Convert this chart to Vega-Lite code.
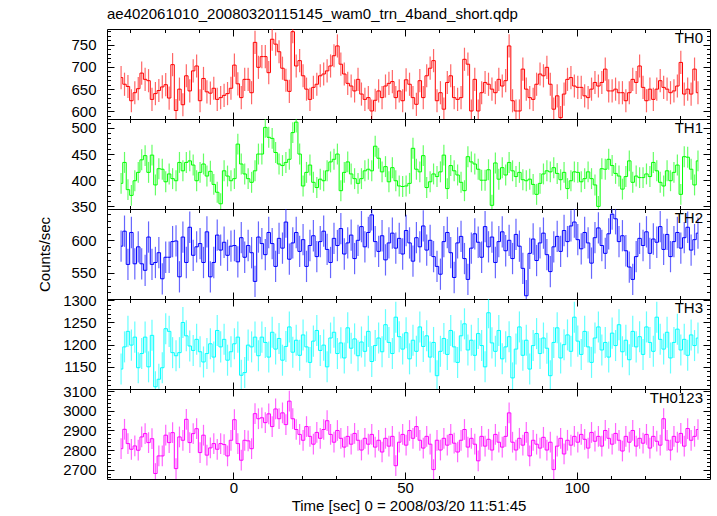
{
"$schema":"https://vega.github.io/schema/vega-lite/v6.json",
"padding":{"left":37,"top":7,"right":7,"bottom":0},
"bounds":"flush",
"spacing":0,
"title":{"text":"ae402061010_20080320115145_wam0_trn_4band_short.qdp","anchor":"start","frame":"group","fontSize":15,"fontWeight":"normal","font":"Liberation Sans","color":"#000","baseline":"alphabetic","offset":-10.5},
"datasets":{
"th0":[{"t":-32.7,"v":676,"e":26},{"t":-31.7,"v":661,"e":26},{"t":-30.7,"v":656,"e":26},{"t":-29.7,"v":624,"e":26},{"t":-28.7,"v":642,"e":26},{"t":-27.7,"v":651,"e":26},{"t":-26.7,"v":686,"e":26},{"t":-25.7,"v":672,"e":26},{"t":-24.7,"v":669,"e":26},{"t":-23.7,"v":627,"e":26},{"t":-22.7,"v":640,"e":26},{"t":-21.7,"v":647,"e":26},{"t":-20.7,"v":655,"e":26},{"t":-19.7,"v":660,"e":26},{"t":-18.7,"v":630,"e":26},{"t":-17.7,"v":705,"e":26},{"t":-16.7,"v":602,"e":26},{"t":-15.7,"v":650,"e":26},{"t":-14.7,"v":615,"e":26},{"t":-13.7,"v":680,"e":26},{"t":-12.7,"v":646,"e":26},{"t":-11.7,"v":691,"e":26},{"t":-10.7,"v":702,"e":26},{"t":-9.7,"v":624,"e":26},{"t":-8.7,"v":674,"e":26},{"t":-7.7,"v":644,"e":26},{"t":-6.7,"v":641,"e":26},{"t":-5.7,"v":652,"e":26},{"t":-4.7,"v":627,"e":26},{"t":-3.7,"v":631,"e":26},{"t":-2.7,"v":636,"e":26},{"t":-1.7,"v":640,"e":26},{"t":-0.7,"v":652,"e":26},{"t":0.3,"v":704,"e":26},{"t":1.3,"v":662,"e":26},{"t":2.3,"v":631,"e":26},{"t":3.3,"v":672,"e":26},{"t":4.3,"v":672,"e":26},{"t":5.3,"v":642,"e":26},{"t":6.3,"v":755,"e":26},{"t":7.3,"v":699,"e":26},{"t":8.3,"v":723,"e":26},{"t":9.3,"v":723,"e":26},{"t":10.3,"v":687,"e":26},{"t":11.3,"v":762,"e":26},{"t":12.3,"v":751,"e":26},{"t":13.3,"v":734,"e":26},{"t":14.3,"v":697,"e":26},{"t":15.3,"v":670,"e":26},{"t":16.3,"v":645,"e":26},{"t":17.3,"v":779,"e":26},{"t":18.3,"v":702,"e":26},{"t":19.3,"v":714,"e":26},{"t":20.3,"v":680,"e":26},{"t":21.3,"v":650,"e":26},{"t":22.3,"v":627,"e":26},{"t":23.3,"v":654,"e":26},{"t":24.3,"v":661,"e":26},{"t":25.3,"v":680,"e":26},{"t":26.3,"v":684,"e":26},{"t":27.3,"v":691,"e":26},{"t":28.3,"v":702,"e":26},{"t":29.3,"v":725,"e":26},{"t":30.3,"v":747,"e":26},{"t":31.3,"v":706,"e":26},{"t":32.3,"v":684,"e":26},{"t":33.3,"v":663,"e":26},{"t":34.3,"v":657,"e":26},{"t":35.3,"v":646,"e":26},{"t":36.3,"v":672,"e":26},{"t":37.3,"v":639,"e":26},{"t":38.3,"v":627,"e":26},{"t":39.3,"v":631,"e":26},{"t":40.3,"v":601,"e":26},{"t":41.3,"v":625,"e":26},{"t":42.3,"v":646,"e":26},{"t":43.3,"v":631,"e":26},{"t":44.3,"v":657,"e":26},{"t":45.3,"v":663,"e":26},{"t":46.3,"v":667,"e":26},{"t":47.3,"v":631,"e":26},{"t":48.3,"v":646,"e":26},{"t":49.3,"v":624,"e":26},{"t":50.3,"v":671,"e":26},{"t":51.3,"v":661,"e":26},{"t":52.3,"v":631,"e":26},{"t":53.3,"v":616,"e":26},{"t":54.3,"v":669,"e":26},{"t":55.3,"v":631,"e":26},{"t":56.3,"v":680,"e":26},{"t":57.3,"v":697,"e":26},{"t":58.3,"v":714,"e":26},{"t":59.3,"v":624,"e":26},{"t":60.3,"v":642,"e":26},{"t":61.3,"v":605,"e":26},{"t":62.3,"v":665,"e":26},{"t":63.3,"v":680,"e":26},{"t":64.3,"v":631,"e":26},{"t":65.3,"v":627,"e":26},{"t":66.3,"v":631,"e":26},{"t":67.3,"v":717,"e":26},{"t":68.3,"v":706,"e":26},{"t":69.3,"v":601,"e":26},{"t":70.3,"v":672,"e":26},{"t":71.3,"v":601,"e":26},{"t":72.3,"v":642,"e":26},{"t":73.3,"v":665,"e":26},{"t":74.3,"v":661,"e":26},{"t":75.3,"v":650,"e":26},{"t":76.3,"v":642,"e":26},{"t":77.3,"v":672,"e":26},{"t":78.3,"v":657,"e":26},{"t":79.3,"v":669,"e":26},{"t":80.3,"v":747,"e":26},{"t":81.3,"v":624,"e":26},{"t":82.3,"v":601,"e":26},{"t":83.3,"v":601,"e":26},{"t":84.3,"v":695,"e":26},{"t":85.3,"v":650,"e":26},{"t":86.3,"v":631,"e":26},{"t":87.3,"v":627,"e":26},{"t":88.3,"v":661,"e":26},{"t":89.3,"v":684,"e":26},{"t":90.3,"v":680,"e":26},{"t":91.3,"v":699,"e":26},{"t":92.3,"v":661,"e":26},{"t":93.3,"v":605,"e":26},{"t":94.3,"v":635,"e":26},{"t":95.3,"v":586,"e":26},{"t":96.3,"v":639,"e":26},{"t":97.3,"v":672,"e":26},{"t":98.3,"v":676,"e":26},{"t":99.3,"v":657,"e":26},{"t":100.3,"v":654,"e":26},{"t":101.3,"v":654,"e":26},{"t":102.3,"v":635,"e":26},{"t":103.3,"v":631,"e":26},{"t":104.3,"v":650,"e":26},{"t":105.3,"v":665,"e":26},{"t":106.3,"v":657,"e":26},{"t":107.3,"v":665,"e":26},{"t":108.3,"v":695,"e":26},{"t":109.3,"v":646,"e":26},{"t":110.3,"v":646,"e":26},{"t":111.3,"v":650,"e":26},{"t":112.3,"v":642,"e":26},{"t":113.3,"v":642,"e":26},{"t":114.3,"v":624,"e":26},{"t":115.3,"v":642,"e":26},{"t":116.3,"v":672,"e":26},{"t":117.3,"v":665,"e":26},{"t":118.3,"v":702,"e":26},{"t":119.3,"v":654,"e":26},{"t":120.3,"v":624,"e":26},{"t":121.3,"v":650,"e":26},{"t":122.3,"v":627,"e":26},{"t":123.3,"v":650,"e":26},{"t":124.3,"v":669,"e":26},{"t":125.3,"v":654,"e":26},{"t":126.3,"v":650,"e":26},{"t":127.3,"v":642,"e":26},{"t":128.3,"v":646,"e":26},{"t":129.3,"v":657,"e":26},{"t":130.3,"v":710,"e":26},{"t":131.3,"v":639,"e":26},{"t":132.3,"v":650,"e":26},{"t":133.3,"v":639,"e":26},{"t":134.3,"v":695,"e":26},{"t":135.3,"v":642,"e":26}],
"th1":[{"t":-32.7,"v":394,"e":20},{"t":-31.7,"v":434,"e":20},{"t":-30.7,"v":382,"e":20},{"t":-29.7,"v":371,"e":20},{"t":-28.7,"v":399,"e":20},{"t":-27.7,"v":415,"e":20},{"t":-26.7,"v":439,"e":20},{"t":-25.7,"v":447,"e":20},{"t":-24.7,"v":415,"e":20},{"t":-23.7,"v":448,"e":20},{"t":-22.7,"v":391,"e":20},{"t":-21.7,"v":422,"e":20},{"t":-20.7,"v":421,"e":20},{"t":-19.7,"v":397,"e":20},{"t":-18.7,"v":412,"e":20},{"t":-17.7,"v":403,"e":20},{"t":-16.7,"v":399,"e":20},{"t":-15.7,"v":434,"e":20},{"t":-14.7,"v":418,"e":20},{"t":-13.7,"v":434,"e":20},{"t":-12.7,"v":437,"e":20},{"t":-11.7,"v":429,"e":20},{"t":-10.7,"v":399,"e":20},{"t":-9.7,"v":415,"e":20},{"t":-8.7,"v":431,"e":20},{"t":-7.7,"v":408,"e":20},{"t":-6.7,"v":417,"e":20},{"t":-5.7,"v":392,"e":20},{"t":-4.7,"v":377,"e":20},{"t":-3.7,"v":355,"e":20},{"t":-2.7,"v":418,"e":20},{"t":-1.7,"v":408,"e":20},{"t":-0.7,"v":399,"e":20},{"t":0.3,"v":403,"e":20},{"t":1.3,"v":469,"e":20},{"t":2.3,"v":431,"e":20},{"t":3.3,"v":412,"e":20},{"t":4.3,"v":403,"e":20},{"t":5.3,"v":396,"e":20},{"t":6.3,"v":418,"e":20},{"t":7.3,"v":450,"e":20},{"t":8.3,"v":450,"e":20},{"t":9.3,"v":501,"e":20},{"t":10.3,"v":482,"e":20},{"t":11.3,"v":480,"e":20},{"t":12.3,"v":453,"e":20},{"t":13.3,"v":431,"e":20},{"t":14.3,"v":428,"e":20},{"t":15.3,"v":434,"e":20},{"t":16.3,"v":440,"e":20},{"t":17.3,"v":491,"e":20},{"t":18.3,"v":511,"e":20},{"t":19.3,"v":450,"e":20},{"t":20.3,"v":389,"e":20},{"t":21.3,"v":415,"e":20},{"t":22.3,"v":429,"e":20},{"t":23.3,"v":396,"e":20},{"t":24.3,"v":386,"e":20},{"t":25.3,"v":402,"e":20},{"t":26.3,"v":399,"e":20},{"t":27.3,"v":418,"e":20},{"t":28.3,"v":435,"e":20},{"t":29.3,"v":440,"e":20},{"t":30.3,"v":450,"e":20},{"t":31.3,"v":380,"e":20},{"t":32.3,"v":415,"e":20},{"t":33.3,"v":435,"e":20},{"t":34.3,"v":412,"e":20},{"t":35.3,"v":403,"e":20},{"t":36.3,"v":394,"e":20},{"t":37.3,"v":403,"e":20},{"t":38.3,"v":418,"e":20},{"t":39.3,"v":421,"e":20},{"t":40.3,"v":418,"e":20},{"t":41.3,"v":465,"e":20},{"t":42.3,"v":442,"e":20},{"t":43.3,"v":416,"e":20},{"t":44.3,"v":426,"e":20},{"t":45.3,"v":397,"e":20},{"t":46.3,"v":424,"e":20},{"t":47.3,"v":399,"e":20},{"t":48.3,"v":389,"e":20},{"t":49.3,"v":388,"e":20},{"t":50.3,"v":389,"e":20},{"t":51.3,"v":394,"e":20},{"t":52.3,"v":461,"e":20},{"t":53.3,"v":421,"e":20},{"t":54.3,"v":416,"e":20},{"t":55.3,"v":447,"e":20},{"t":56.3,"v":386,"e":20},{"t":57.3,"v":397,"e":20},{"t":58.3,"v":412,"e":20},{"t":59.3,"v":407,"e":20},{"t":60.3,"v":416,"e":20},{"t":61.3,"v":448,"e":20},{"t":62.3,"v":384,"e":20},{"t":63.3,"v":428,"e":20},{"t":64.3,"v":418,"e":20},{"t":65.3,"v":410,"e":20},{"t":66.3,"v":396,"e":20},{"t":67.3,"v":380,"e":20},{"t":68.3,"v":445,"e":20},{"t":69.3,"v":435,"e":20},{"t":70.3,"v":431,"e":20},{"t":71.3,"v":421,"e":20},{"t":72.3,"v":400,"e":20},{"t":73.3,"v":400,"e":20},{"t":74.3,"v":420,"e":20},{"t":75.3,"v":352,"e":20},{"t":76.3,"v":433,"e":20},{"t":77.3,"v":402,"e":20},{"t":78.3,"v":424,"e":20},{"t":79.3,"v":410,"e":20},{"t":80.3,"v":434,"e":20},{"t":81.3,"v":418,"e":20},{"t":82.3,"v":407,"e":20},{"t":83.3,"v":415,"e":20},{"t":84.3,"v":401,"e":20},{"t":85.3,"v":399,"e":20},{"t":86.3,"v":402,"e":20},{"t":87.3,"v":392,"e":20},{"t":88.3,"v":373,"e":20},{"t":89.3,"v":394,"e":20},{"t":90.3,"v":412,"e":20},{"t":91.3,"v":418,"e":20},{"t":92.3,"v":416,"e":20},{"t":93.3,"v":424,"e":20},{"t":94.3,"v":413,"e":20},{"t":95.3,"v":401,"e":20},{"t":96.3,"v":415,"e":20},{"t":97.3,"v":384,"e":20},{"t":98.3,"v":399,"e":20},{"t":99.3,"v":416,"e":20},{"t":100.3,"v":415,"e":20},{"t":101.3,"v":397,"e":20},{"t":102.3,"v":403,"e":20},{"t":103.3,"v":416,"e":20},{"t":104.3,"v":403,"e":20},{"t":105.3,"v":391,"e":20},{"t":106.3,"v":350,"e":20},{"t":107.3,"v":422,"e":20},{"t":108.3,"v":421,"e":20},{"t":109.3,"v":440,"e":20},{"t":110.3,"v":428,"e":20},{"t":111.3,"v":413,"e":20},{"t":112.3,"v":408,"e":20},{"t":113.3,"v":383,"e":20},{"t":114.3,"v":407,"e":20},{"t":115.3,"v":437,"e":20},{"t":116.3,"v":396,"e":20},{"t":117.3,"v":408,"e":20},{"t":118.3,"v":405,"e":20},{"t":119.3,"v":405,"e":20},{"t":120.3,"v":412,"e":20},{"t":121.3,"v":407,"e":20},{"t":122.3,"v":434,"e":20},{"t":123.3,"v":418,"e":20},{"t":124.3,"v":396,"e":20},{"t":125.3,"v":389,"e":20},{"t":126.3,"v":418,"e":20},{"t":127.3,"v":399,"e":20},{"t":128.3,"v":415,"e":20},{"t":129.3,"v":429,"e":20},{"t":130.3,"v":373,"e":20},{"t":131.3,"v":445,"e":20},{"t":132.3,"v":444,"e":20},{"t":133.3,"v":421,"e":20},{"t":134.3,"v":391,"e":20},{"t":135.3,"v":437,"e":20}],
"th2":[{"t":-32.7,"v":591,"e":24},{"t":-31.7,"v":614,"e":24},{"t":-30.7,"v":563,"e":24},{"t":-29.7,"v":612,"e":24},{"t":-28.7,"v":564,"e":24},{"t":-27.7,"v":590,"e":24},{"t":-26.7,"v":564,"e":24},{"t":-25.7,"v":554,"e":24},{"t":-24.7,"v":605,"e":24},{"t":-23.7,"v":563,"e":24},{"t":-22.7,"v":566,"e":24},{"t":-21.7,"v":581,"e":24},{"t":-20.7,"v":541,"e":24},{"t":-19.7,"v":574,"e":24},{"t":-18.7,"v":574,"e":24},{"t":-17.7,"v":598,"e":24},{"t":-16.7,"v":599,"e":24},{"t":-15.7,"v":544,"e":24},{"t":-14.7,"v":605,"e":24},{"t":-13.7,"v":566,"e":24},{"t":-12.7,"v":620,"e":24},{"t":-11.7,"v":577,"e":24},{"t":-10.7,"v":590,"e":24},{"t":-9.7,"v":595,"e":24},{"t":-8.7,"v":566,"e":24},{"t":-7.7,"v":613,"e":24},{"t":-6.7,"v":544,"e":24},{"t":-5.7,"v":566,"e":24},{"t":-4.7,"v":608,"e":24},{"t":-3.7,"v":585,"e":24},{"t":-2.7,"v":597,"e":24},{"t":-1.7,"v":577,"e":24},{"t":-0.7,"v":591,"e":24},{"t":0.3,"v":592,"e":24},{"t":1.3,"v":567,"e":24},{"t":2.3,"v":604,"e":24},{"t":3.3,"v":574,"e":24},{"t":4.3,"v":592,"e":24},{"t":5.3,"v":581,"e":24},{"t":6.3,"v":537,"e":24},{"t":7.3,"v":605,"e":24},{"t":8.3,"v":595,"e":24},{"t":9.3,"v":578,"e":24},{"t":10.3,"v":612,"e":24},{"t":11.3,"v":595,"e":24},{"t":12.3,"v":560,"e":24},{"t":13.3,"v":603,"e":24},{"t":14.3,"v":588,"e":24},{"t":15.3,"v":628,"e":24},{"t":16.3,"v":571,"e":24},{"t":17.3,"v":596,"e":24},{"t":18.3,"v":612,"e":24},{"t":19.3,"v":583,"e":24},{"t":20.3,"v":601,"e":24},{"t":21.3,"v":560,"e":24},{"t":22.3,"v":592,"e":24},{"t":23.3,"v":607,"e":24},{"t":24.3,"v":575,"e":24},{"t":25.3,"v":598,"e":24},{"t":26.3,"v":614,"e":24},{"t":27.3,"v":586,"e":24},{"t":28.3,"v":566,"e":24},{"t":29.3,"v":603,"e":24},{"t":30.3,"v":592,"e":24},{"t":31.3,"v":618,"e":24},{"t":32.3,"v":579,"e":24},{"t":33.3,"v":596,"e":24},{"t":34.3,"v":608,"e":24},{"t":35.3,"v":572,"e":24},{"t":36.3,"v":600,"e":24},{"t":37.3,"v":621,"e":24},{"t":38.3,"v":590,"e":24},{"t":39.3,"v":612,"e":24},{"t":40.3,"v":639,"e":24},{"t":41.3,"v":598,"e":24},{"t":42.3,"v":583,"e":24},{"t":43.3,"v":607,"e":24},{"t":44.3,"v":570,"e":24},{"t":45.3,"v":596,"e":24},{"t":46.3,"v":611,"e":24},{"t":47.3,"v":588,"e":24},{"t":48.3,"v":603,"e":24},{"t":49.3,"v":579,"e":24},{"t":50.3,"v":615,"e":24},{"t":51.3,"v":596,"e":24},{"t":52.3,"v":568,"e":24},{"t":53.3,"v":604,"e":24},{"t":54.3,"v":590,"e":24},{"t":55.3,"v":622,"e":24},{"t":56.3,"v":585,"e":24},{"t":57.3,"v":600,"e":24},{"t":58.3,"v":575,"e":24},{"t":59.3,"v":560,"e":24},{"t":60.3,"v":548,"e":24},{"t":61.3,"v":598,"e":24},{"t":62.3,"v":612,"e":24},{"t":63.3,"v":581,"e":24},{"t":64.3,"v":543,"e":24},{"t":65.3,"v":596,"e":24},{"t":66.3,"v":606,"e":24},{"t":67.3,"v":572,"e":24},{"t":68.3,"v":540,"e":24},{"t":69.3,"v":588,"e":24},{"t":70.3,"v":610,"e":24},{"t":71.3,"v":597,"e":24},{"t":72.3,"v":574,"e":24},{"t":73.3,"v":621,"e":24},{"t":74.3,"v":590,"e":24},{"t":75.3,"v":605,"e":24},{"t":76.3,"v":566,"e":24},{"t":77.3,"v":598,"e":24},{"t":78.3,"v":613,"e":24},{"t":79.3,"v":584,"e":24},{"t":80.3,"v":600,"e":24},{"t":81.3,"v":572,"e":24},{"t":82.3,"v":609,"e":24},{"t":83.3,"v":591,"e":24},{"t":84.3,"v":557,"e":24},{"t":85.3,"v":515,"e":24},{"t":86.3,"v":580,"e":24},{"t":87.3,"v":602,"e":24},{"t":88.3,"v":569,"e":24},{"t":89.3,"v":596,"e":24},{"t":90.3,"v":611,"e":24},{"t":91.3,"v":578,"e":24},{"t":92.3,"v":552,"e":24},{"t":93.3,"v":590,"e":24},{"t":94.3,"v":606,"e":24},{"t":95.3,"v":583,"e":24},{"t":96.3,"v":615,"e":24},{"t":97.3,"v":598,"e":24},{"t":98.3,"v":622,"e":24},{"t":99.3,"v":628,"e":24},{"t":100.3,"v":601,"e":24},{"t":101.3,"v":587,"e":24},{"t":102.3,"v":612,"e":24},{"t":103.3,"v":596,"e":24},{"t":104.3,"v":565,"e":24},{"t":105.3,"v":604,"e":24},{"t":106.3,"v":619,"e":24},{"t":107.3,"v":592,"e":24},{"t":108.3,"v":580,"e":24},{"t":109.3,"v":610,"e":24},{"t":110.3,"v":640,"e":24},{"t":111.3,"v":633,"e":24},{"t":112.3,"v":598,"e":24},{"t":113.3,"v":607,"e":24},{"t":114.3,"v":584,"e":24},{"t":115.3,"v":559,"e":24},{"t":116.3,"v":540,"e":24},{"t":117.3,"v":575,"e":24},{"t":118.3,"v":603,"e":24},{"t":119.3,"v":592,"e":24},{"t":120.3,"v":613,"e":24},{"t":121.3,"v":580,"e":24},{"t":122.3,"v":602,"e":24},{"t":123.3,"v":597,"e":24},{"t":124.3,"v":621,"e":24},{"t":125.3,"v":586,"e":24},{"t":126.3,"v":609,"e":24},{"t":127.3,"v":575,"e":24},{"t":128.3,"v":598,"e":24},{"t":129.3,"v":612,"e":24},{"t":130.3,"v":588,"e":24},{"t":131.3,"v":604,"e":24},{"t":132.3,"v":620,"e":24},{"t":133.3,"v":585,"e":24},{"t":134.3,"v":601,"e":24},{"t":135.3,"v":611,"e":24}],
"th3":[{"t":-32.7,"v":1145,"e":35},{"t":-31.7,"v":1195,"e":35},{"t":-30.7,"v":1230,"e":35},{"t":-29.7,"v":1199,"e":35},{"t":-28.7,"v":1217,"e":35},{"t":-27.7,"v":1148,"e":35},{"t":-26.7,"v":1180,"e":35},{"t":-25.7,"v":1217,"e":35},{"t":-24.7,"v":1150,"e":35},{"t":-23.7,"v":1221,"e":35},{"t":-22.7,"v":1105,"e":35},{"t":-21.7,"v":1122,"e":35},{"t":-20.7,"v":1148,"e":35},{"t":-19.7,"v":1236,"e":35},{"t":-18.7,"v":1230,"e":35},{"t":-17.7,"v":1182,"e":35},{"t":-16.7,"v":1175,"e":35},{"t":-15.7,"v":1182,"e":35},{"t":-14.7,"v":1250,"e":35},{"t":-13.7,"v":1220,"e":35},{"t":-12.7,"v":1197,"e":35},{"t":-11.7,"v":1187,"e":35},{"t":-10.7,"v":1212,"e":35},{"t":-9.7,"v":1184,"e":35},{"t":-8.7,"v":1161,"e":35},{"t":-7.7,"v":1180,"e":35},{"t":-6.7,"v":1202,"e":35},{"t":-5.7,"v":1172,"e":35},{"t":-4.7,"v":1232,"e":35},{"t":-3.7,"v":1195,"e":35},{"t":-2.7,"v":1212,"e":35},{"t":-1.7,"v":1165,"e":35},{"t":-0.7,"v":1184,"e":35},{"t":0.3,"v":1202,"e":35},{"t":1.3,"v":1217,"e":35},{"t":2.3,"v":1131,"e":35},{"t":3.3,"v":1137,"e":35},{"t":4.3,"v":1199,"e":35},{"t":5.3,"v":1195,"e":35},{"t":6.3,"v":1217,"e":35},{"t":7.3,"v":1175,"e":35},{"t":8.3,"v":1217,"e":35},{"t":9.3,"v":1205,"e":35},{"t":10.3,"v":1172,"e":35},{"t":11.3,"v":1228,"e":35},{"t":12.3,"v":1190,"e":35},{"t":13.3,"v":1214,"e":35},{"t":14.3,"v":1165,"e":35},{"t":15.3,"v":1196,"e":35},{"t":16.3,"v":1240,"e":35},{"t":17.3,"v":1183,"e":35},{"t":18.3,"v":1210,"e":35},{"t":19.3,"v":1176,"e":35},{"t":20.3,"v":1222,"e":35},{"t":21.3,"v":1195,"e":35},{"t":22.3,"v":1160,"e":35},{"t":23.3,"v":1208,"e":35},{"t":24.3,"v":1232,"e":35},{"t":25.3,"v":1187,"e":35},{"t":26.3,"v":1199,"e":35},{"t":27.3,"v":1150,"e":35},{"t":28.3,"v":1215,"e":35},{"t":29.3,"v":1228,"e":35},{"t":30.3,"v":1180,"e":35},{"t":31.3,"v":1204,"e":35},{"t":32.3,"v":1170,"e":35},{"t":33.3,"v":1238,"e":35},{"t":34.3,"v":1192,"e":35},{"t":35.3,"v":1213,"e":35},{"t":36.3,"v":1175,"e":35},{"t":37.3,"v":1206,"e":35},{"t":38.3,"v":1185,"e":35},{"t":39.3,"v":1230,"e":35},{"t":40.3,"v":1162,"e":35},{"t":41.3,"v":1198,"e":35},{"t":42.3,"v":1215,"e":35},{"t":43.3,"v":1184,"e":35},{"t":44.3,"v":1245,"e":35},{"t":45.3,"v":1205,"e":35},{"t":46.3,"v":1180,"e":35},{"t":47.3,"v":1262,"e":35},{"t":48.3,"v":1218,"e":35},{"t":49.3,"v":1190,"e":35},{"t":50.3,"v":1227,"e":35},{"t":51.3,"v":1168,"e":35},{"t":52.3,"v":1210,"e":35},{"t":53.3,"v":1185,"e":35},{"t":54.3,"v":1240,"e":35},{"t":55.3,"v":1196,"e":35},{"t":56.3,"v":1220,"e":35},{"t":57.3,"v":1172,"e":35},{"t":58.3,"v":1205,"e":35},{"t":59.3,"v":1130,"e":35},{"t":60.3,"v":1185,"e":35},{"t":61.3,"v":1214,"e":35},{"t":62.3,"v":1178,"e":35},{"t":63.3,"v":1232,"e":35},{"t":64.3,"v":1195,"e":35},{"t":65.3,"v":1160,"e":35},{"t":66.3,"v":1220,"e":35},{"t":67.3,"v":1247,"e":35},{"t":68.3,"v":1188,"e":35},{"t":69.3,"v":1210,"e":35},{"t":70.3,"v":1176,"e":35},{"t":71.3,"v":1225,"e":35},{"t":72.3,"v":1198,"e":35},{"t":73.3,"v":1150,"e":35},{"t":74.3,"v":1272,"e":35},{"t":75.3,"v":1204,"e":35},{"t":76.3,"v":1185,"e":35},{"t":77.3,"v":1232,"e":35},{"t":78.3,"v":1168,"e":35},{"t":79.3,"v":1195,"e":35},{"t":80.3,"v":1218,"e":35},{"t":81.3,"v":1125,"e":35},{"t":82.3,"v":1190,"e":35},{"t":83.3,"v":1240,"e":35},{"t":84.3,"v":1176,"e":35},{"t":85.3,"v":1210,"e":35},{"t":86.3,"v":1145,"e":35},{"t":87.3,"v":1198,"e":35},{"t":88.3,"v":1225,"e":35},{"t":89.3,"v":1180,"e":35},{"t":90.3,"v":1215,"e":35},{"t":91.3,"v":1192,"e":35},{"t":92.3,"v":1130,"e":35},{"t":93.3,"v":1205,"e":35},{"t":94.3,"v":1238,"e":35},{"t":95.3,"v":1170,"e":35},{"t":96.3,"v":1200,"e":35},{"t":97.3,"v":1222,"e":35},{"t":98.3,"v":1185,"e":35},{"t":99.3,"v":1262,"e":35},{"t":100.3,"v":1208,"e":35},{"t":101.3,"v":1178,"e":35},{"t":102.3,"v":1230,"e":35},{"t":103.3,"v":1195,"e":35},{"t":104.3,"v":1160,"e":35},{"t":105.3,"v":1215,"e":35},{"t":106.3,"v":1240,"e":35},{"t":107.3,"v":1188,"e":35},{"t":108.3,"v":1205,"e":35},{"t":109.3,"v":1172,"e":35},{"t":110.3,"v":1226,"e":35},{"t":111.3,"v":1198,"e":35},{"t":112.3,"v":1245,"e":35},{"t":113.3,"v":1184,"e":35},{"t":114.3,"v":1210,"e":35},{"t":115.3,"v":1166,"e":35},{"t":116.3,"v":1230,"e":35},{"t":117.3,"v":1195,"e":35},{"t":118.3,"v":1218,"e":35},{"t":119.3,"v":1178,"e":35},{"t":120.3,"v":1240,"e":35},{"t":121.3,"v":1205,"e":35},{"t":122.3,"v":1185,"e":35},{"t":123.3,"v":1262,"e":35},{"t":124.3,"v":1212,"e":35},{"t":125.3,"v":1190,"e":35},{"t":126.3,"v":1228,"e":35},{"t":127.3,"v":1170,"e":35},{"t":128.3,"v":1205,"e":35},{"t":129.3,"v":1235,"e":35},{"t":130.3,"v":1188,"e":35},{"t":131.3,"v":1212,"e":35},{"t":132.3,"v":1176,"e":35},{"t":133.3,"v":1222,"e":35},{"t":134.3,"v":1198,"e":35},{"t":135.3,"v":1215,"e":35}],
"th4":[{"t":-32.7,"v":2807,"e":53},{"t":-31.7,"v":2906,"e":53},{"t":-30.7,"v":2833,"e":53},{"t":-29.7,"v":2804,"e":53},{"t":-28.7,"v":2821,"e":53},{"t":-27.7,"v":2799,"e":53},{"t":-26.7,"v":2867,"e":53},{"t":-25.7,"v":2884,"e":53},{"t":-24.7,"v":2838,"e":53},{"t":-23.7,"v":2858,"e":53},{"t":-22.7,"v":2680,"e":53},{"t":-21.7,"v":2770,"e":53},{"t":-20.7,"v":2770,"e":53},{"t":-19.7,"v":2876,"e":53},{"t":-18.7,"v":2838,"e":53},{"t":-17.7,"v":2889,"e":53},{"t":-16.7,"v":2705,"e":53},{"t":-15.7,"v":2867,"e":53},{"t":-14.7,"v":2850,"e":53},{"t":-13.7,"v":2957,"e":53},{"t":-12.7,"v":2838,"e":53},{"t":-11.7,"v":2884,"e":53},{"t":-10.7,"v":2909,"e":53},{"t":-9.7,"v":2787,"e":53},{"t":-8.7,"v":2876,"e":53},{"t":-7.7,"v":2774,"e":53},{"t":-6.7,"v":2811,"e":53},{"t":-5.7,"v":2833,"e":53},{"t":-4.7,"v":2804,"e":53},{"t":-3.7,"v":2833,"e":53},{"t":-2.7,"v":2828,"e":53},{"t":-1.7,"v":2770,"e":53},{"t":-0.7,"v":2850,"e":53},{"t":0.3,"v":2955,"e":53},{"t":1.3,"v":2833,"e":53},{"t":2.3,"v":2748,"e":53},{"t":3.3,"v":2850,"e":53},{"t":4.3,"v":2847,"e":53},{"t":5.3,"v":2807,"e":53},{"t":6.3,"v":2986,"e":53},{"t":7.3,"v":2960,"e":53},{"t":8.3,"v":2965,"e":53},{"t":9.3,"v":2940,"e":53},{"t":10.3,"v":2985,"e":53},{"t":11.3,"v":2920,"e":53},{"t":12.3,"v":3010,"e":53},{"t":13.3,"v":2960,"e":53},{"t":14.3,"v":2990,"e":53},{"t":15.3,"v":2930,"e":53},{"t":16.3,"v":3050,"e":53},{"t":17.3,"v":2960,"e":53},{"t":18.3,"v":2905,"e":53},{"t":19.3,"v":2880,"e":53},{"t":20.3,"v":2850,"e":53},{"t":21.3,"v":2920,"e":53},{"t":22.3,"v":2870,"e":53},{"t":23.3,"v":2830,"e":53},{"t":24.3,"v":2890,"e":53},{"t":25.3,"v":2860,"e":53},{"t":26.3,"v":2905,"e":53},{"t":27.3,"v":2950,"e":53},{"t":28.3,"v":2880,"e":53},{"t":29.3,"v":2840,"e":53},{"t":30.3,"v":2900,"e":53},{"t":31.3,"v":2860,"e":53},{"t":32.3,"v":2815,"e":53},{"t":33.3,"v":2870,"e":53},{"t":34.3,"v":2830,"e":53},{"t":35.3,"v":2885,"e":53},{"t":36.3,"v":2850,"e":53},{"t":37.3,"v":2800,"e":53},{"t":38.3,"v":2860,"e":53},{"t":39.3,"v":2830,"e":53},{"t":40.3,"v":2880,"e":53},{"t":41.3,"v":2815,"e":53},{"t":42.3,"v":2850,"e":53},{"t":43.3,"v":2790,"e":53},{"t":44.3,"v":2860,"e":53},{"t":45.3,"v":2820,"e":53},{"t":46.3,"v":2870,"e":53},{"t":47.3,"v":2720,"e":53},{"t":48.3,"v":2840,"e":53},{"t":49.3,"v":2880,"e":53},{"t":50.3,"v":2825,"e":53},{"t":51.3,"v":2900,"e":53},{"t":52.3,"v":2860,"e":53},{"t":53.3,"v":2920,"e":53},{"t":54.3,"v":2850,"e":53},{"t":55.3,"v":2810,"e":53},{"t":56.3,"v":2870,"e":53},{"t":57.3,"v":2830,"e":53},{"t":58.3,"v":2700,"e":53},{"t":59.3,"v":2850,"e":53},{"t":60.3,"v":2800,"e":53},{"t":61.3,"v":2860,"e":53},{"t":62.3,"v":2825,"e":53},{"t":63.3,"v":2880,"e":53},{"t":64.3,"v":2835,"e":53},{"t":65.3,"v":2790,"e":53},{"t":66.3,"v":2850,"e":53},{"t":67.3,"v":2905,"e":53},{"t":68.3,"v":2815,"e":53},{"t":69.3,"v":2860,"e":53},{"t":70.3,"v":2830,"e":53},{"t":71.3,"v":2745,"e":53},{"t":72.3,"v":2870,"e":53},{"t":73.3,"v":2820,"e":53},{"t":74.3,"v":2855,"e":53},{"t":75.3,"v":2800,"e":53},{"t":76.3,"v":2880,"e":53},{"t":77.3,"v":2840,"e":53},{"t":78.3,"v":2815,"e":53},{"t":79.3,"v":2870,"e":53},{"t":80.3,"v":2990,"e":53},{"t":81.3,"v":2840,"e":53},{"t":82.3,"v":2800,"e":53},{"t":83.3,"v":2860,"e":53},{"t":84.3,"v":2825,"e":53},{"t":85.3,"v":2890,"e":53},{"t":86.3,"v":2770,"e":53},{"t":87.3,"v":2850,"e":53},{"t":88.3,"v":2830,"e":53},{"t":89.3,"v":2810,"e":53},{"t":90.3,"v":2865,"e":53},{"t":91.3,"v":2800,"e":53},{"t":92.3,"v":2840,"e":53},{"t":93.3,"v":2700,"e":53},{"t":94.3,"v":2820,"e":53},{"t":95.3,"v":2860,"e":53},{"t":96.3,"v":2780,"e":53},{"t":97.3,"v":2850,"e":53},{"t":98.3,"v":2825,"e":53},{"t":99.3,"v":2870,"e":53},{"t":100.3,"v":2840,"e":53},{"t":101.3,"v":2880,"e":53},{"t":102.3,"v":2855,"e":53},{"t":103.3,"v":2810,"e":53},{"t":104.3,"v":2890,"e":53},{"t":105.3,"v":2845,"e":53},{"t":106.3,"v":2870,"e":53},{"t":107.3,"v":2820,"e":53},{"t":108.3,"v":2900,"e":53},{"t":109.3,"v":2860,"e":53},{"t":110.3,"v":2830,"e":53},{"t":111.3,"v":2885,"e":53},{"t":112.3,"v":2850,"e":53},{"t":113.3,"v":2795,"e":53},{"t":114.3,"v":2870,"e":53},{"t":115.3,"v":2840,"e":53},{"t":116.3,"v":2900,"e":53},{"t":117.3,"v":2820,"e":53},{"t":118.3,"v":2860,"e":53},{"t":119.3,"v":2835,"e":53},{"t":120.3,"v":2880,"e":53},{"t":121.3,"v":2810,"e":53},{"t":122.3,"v":2870,"e":53},{"t":123.3,"v":2845,"e":53},{"t":124.3,"v":2825,"e":53},{"t":125.3,"v":2960,"e":53},{"t":126.3,"v":2850,"e":53},{"t":127.3,"v":2800,"e":53},{"t":128.3,"v":2870,"e":53},{"t":129.3,"v":2840,"e":53},{"t":130.3,"v":2885,"e":53},{"t":131.3,"v":2820,"e":53},{"t":132.3,"v":2910,"e":53},{"t":133.3,"v":2850,"e":53},{"t":134.3,"v":2870,"e":53},{"t":135.3,"v":2905,"e":53}]
},
"vconcat":[
{"width":603,"height":90,"data":{"name":"th0"},
 "layer":[
  {"mark":{"type":"errorbar","color":"#ff0000","ticks":false,"clip":true,"rule":{"opacity":0.6,"strokeWidth":1.2}},
   "encoding":{
    "x":{"field":"t","type":"quantitative","scale":{"domain":[-36.8,138.8],"nice":false,"zero":false},"axis":{"orient":"top","labels":false,"title":null,"values":[-30,-20,-10,0,10,20,30,40,50,60,70,80,90,100,110,120,130],"tickSize":{"condition":{"test":"datum.value % 50 === 0","value":-7},"value":-3.5}}},
    "y":{"field":"v","type":"quantitative","scale":{"domain":[583,785],"nice":false,"zero":false},"axis":{"orient":"right","labels":false,"title":null,"values":[590,600,610,620,630,640,650,660,670,680,690,700,710,720,730,740,750,760,770,780],"tickSize":{"condition":{"test":"datum.value % 50 === 0","value":-7},"value":-3.5}}},
    "yError":{"field":"e"}}},
  {"mark":{"type":"line","interpolate":"step","color":"#ff0000","strokeWidth":1,"clip":true},
   "encoding":{
    "x":{"field":"t","type":"quantitative","scale":{"domain":[-36.8,138.8],"nice":false,"zero":false},"axis":{"orient":"bottom","labels":false,"title":null,"values":[-30,-20,-10,0,10,20,30,40,50,60,70,80,90,100,110,120,130],"tickSize":{"condition":{"test":"datum.value % 50 === 0","value":-7},"value":-3.5}}},
    "y":{"field":"v","type":"quantitative","scale":{"domain":[583,785],"nice":false,"zero":false},"axis":{"orient":"left","title":null,"format":"d","values":[590,600,610,620,630,640,650,660,670,680,690,700,710,720,730,740,750,760,770,780],"labelExpr":"datum.value % 50 === 0 ? datum.label : ''","labelPadding":18,"tickSize":{"condition":{"test":"datum.value % 50 === 0","value":-7},"value":-3.5}}}}},
  {"data":{"values":[{"label":"TH0","x":138.8,"y":752.5}]},
   "mark":{"type":"text","align":"right","baseline":"alphabetic","dx":-7,"fontSize":15,"font":"Liberation Sans","color":"#000"},
   "encoding":{"x":{"field":"x","type":"quantitative","axis":null},"y":{"field":"y","type":"quantitative","axis":null},"text":{"field":"label"}}}
 ],
 "resolve":{"axis":{"x":"independent","y":"independent"}}},
{"width":603,"height":90,"data":{"name":"th1"},
 "layer":[
  {"mark":{"type":"errorbar","color":"#00ff00","ticks":false,"clip":true,"rule":{"opacity":0.6,"strokeWidth":1.2}},
   "encoding":{
    "x":{"field":"t","type":"quantitative","scale":{"domain":[-36.8,138.8],"nice":false,"zero":false},"axis":{"orient":"top","labels":false,"title":null,"values":[-30,-20,-10,0,10,20,30,40,50,60,70,80,90,100,110,120,130],"tickSize":{"condition":{"test":"datum.value % 50 === 0","value":-7},"value":-3.5}}},
    "y":{"field":"v","type":"quantitative","scale":{"domain":[345,517],"nice":false,"zero":false},"axis":{"orient":"right","labels":false,"title":null,"values":[350,360,370,380,390,400,410,420,430,440,450,460,470,480,490,500,510],"tickSize":{"condition":{"test":"datum.value % 50 === 0","value":-7},"value":-3.5}}},
    "yError":{"field":"e"}}},
  {"mark":{"type":"line","interpolate":"step","color":"#00ff00","strokeWidth":1,"clip":true},
   "encoding":{
    "x":{"field":"t","type":"quantitative","scale":{"domain":[-36.8,138.8],"nice":false,"zero":false},"axis":{"orient":"bottom","labels":false,"title":null,"values":[-30,-20,-10,0,10,20,30,40,50,60,70,80,90,100,110,120,130],"tickSize":{"condition":{"test":"datum.value % 50 === 0","value":-7},"value":-3.5}}},
    "y":{"field":"v","type":"quantitative","scale":{"domain":[345,517],"nice":false,"zero":false},"axis":{"orient":"left","title":null,"format":"d","values":[350,360,370,380,390,400,410,420,430,440,450,460,470,480,490,500,510],"labelExpr":"datum.value % 50 === 0 ? datum.label : ''","labelPadding":18,"tickSize":{"condition":{"test":"datum.value % 50 === 0","value":-7},"value":-3.5}}}}},
  {"data":{"values":[{"label":"TH1","x":138.8,"y":489.3}]},
   "mark":{"type":"text","align":"right","baseline":"alphabetic","dx":-7,"fontSize":15,"font":"Liberation Sans","color":"#000"},
   "encoding":{"x":{"field":"x","type":"quantitative","axis":null},"y":{"field":"y","type":"quantitative","axis":null},"text":{"field":"label"}}}
 ],
 "resolve":{"axis":{"x":"independent","y":"independent"}}},
{"width":603,"height":90,"data":{"name":"th2"},
 "layer":[
  {"mark":{"type":"errorbar","color":"#0000ff","ticks":false,"clip":true,"rule":{"opacity":0.6,"strokeWidth":1.2}},
   "encoding":{
    "x":{"field":"t","type":"quantitative","scale":{"domain":[-36.8,138.8],"nice":false,"zero":false},"axis":{"orient":"top","labels":false,"title":null,"values":[-30,-20,-10,0,10,20,30,40,50,60,70,80,90,100,110,120,130],"tickSize":{"condition":{"test":"datum.value % 50 === 0","value":-7},"value":-3.5}}},
    "y":{"field":"v","type":"quantitative","scale":{"domain":[510,648],"nice":false,"zero":false},"axis":{"orient":"right","labels":false,"title":null,"values":[520,530,540,550,560,570,580,590,600,610,620,630,640],"tickSize":{"condition":{"test":"datum.value % 50 === 0","value":-7},"value":-3.5}}},
    "yError":{"field":"e"}}},
  {"mark":{"type":"line","interpolate":"step","color":"#0000ff","strokeWidth":1,"clip":true},
   "encoding":{
    "x":{"field":"t","type":"quantitative","scale":{"domain":[-36.8,138.8],"nice":false,"zero":false},"axis":{"orient":"bottom","labels":false,"title":null,"values":[-30,-20,-10,0,10,20,30,40,50,60,70,80,90,100,110,120,130],"tickSize":{"condition":{"test":"datum.value % 50 === 0","value":-7},"value":-3.5}}},
    "y":{"field":"v","type":"quantitative","scale":{"domain":[510,648],"nice":false,"zero":false},"axis":{"orient":"left","title":"Counts/sec","titlePadding":18,"format":"d","values":[520,530,540,550,560,570,580,590,600,610,620,630,640],"labelExpr":"datum.value % 50 === 0 ? datum.label : ''","labelPadding":18,"tickSize":{"condition":{"test":"datum.value % 50 === 0","value":-7},"value":-3.5}}}}},
  {"data":{"values":[{"label":"TH2","x":138.8,"y":625.8}]},
   "mark":{"type":"text","align":"right","baseline":"alphabetic","dx":-7,"fontSize":15,"font":"Liberation Sans","color":"#000"},
   "encoding":{"x":{"field":"x","type":"quantitative","axis":null},"y":{"field":"y","type":"quantitative","axis":null},"text":{"field":"label"}}}
 ],
 "resolve":{"axis":{"x":"independent","y":"independent"}}},
{"width":603,"height":90,"data":{"name":"th3"},
 "layer":[
  {"mark":{"type":"errorbar","color":"#00ffff","ticks":false,"clip":true,"rule":{"opacity":0.6,"strokeWidth":1.2}},
   "encoding":{
    "x":{"field":"t","type":"quantitative","scale":{"domain":[-36.8,138.8],"nice":false,"zero":false},"axis":{"orient":"top","labels":false,"title":null,"values":[-30,-20,-10,0,10,20,30,40,50,60,70,80,90,100,110,120,130],"tickSize":{"condition":{"test":"datum.value % 50 === 0","value":-7},"value":-3.5}}},
    "y":{"field":"v","type":"quantitative","scale":{"domain":[1100,1303],"nice":false,"zero":false},"axis":{"orient":"right","labels":false,"title":null,"values":[1110,1120,1130,1140,1150,1160,1170,1180,1190,1200,1210,1220,1230,1240,1250,1260,1270,1280,1290,1300],"tickSize":{"condition":{"test":"datum.value % 50 === 0","value":-7},"value":-3.5}}},
    "yError":{"field":"e"}}},
  {"mark":{"type":"line","interpolate":"step","color":"#00ffff","strokeWidth":1,"clip":true},
   "encoding":{
    "x":{"field":"t","type":"quantitative","scale":{"domain":[-36.8,138.8],"nice":false,"zero":false},"axis":{"orient":"bottom","labels":false,"title":null,"values":[-30,-20,-10,0,10,20,30,40,50,60,70,80,90,100,110,120,130],"tickSize":{"condition":{"test":"datum.value % 50 === 0","value":-7},"value":-3.5}}},
    "y":{"field":"v","type":"quantitative","scale":{"domain":[1100,1303],"nice":false,"zero":false},"axis":{"orient":"left","title":null,"format":"d","values":[1110,1120,1130,1140,1150,1160,1170,1180,1190,1200,1210,1220,1230,1240,1250,1260,1270,1280,1290,1300],"labelExpr":"datum.value % 50 === 0 ? datum.label : ''","labelPadding":18,"tickSize":{"condition":{"test":"datum.value % 50 === 0","value":-7},"value":-3.5}}}}},
  {"data":{"values":[{"label":"TH3","x":138.8,"y":1270.3}]},
   "mark":{"type":"text","align":"right","baseline":"alphabetic","dx":-7,"fontSize":15,"font":"Liberation Sans","color":"#000"},
   "encoding":{"x":{"field":"x","type":"quantitative","axis":null},"y":{"field":"y","type":"quantitative","axis":null},"text":{"field":"label"}}}
 ],
 "resolve":{"axis":{"x":"independent","y":"independent"}}},
{"width":603,"height":90,"data":{"name":"th4"},
 "layer":[
  {"mark":{"type":"errorbar","color":"#ff00ff","ticks":false,"clip":true,"rule":{"opacity":0.6,"strokeWidth":1.2}},
   "encoding":{
    "x":{"field":"t","type":"quantitative","scale":{"domain":[-36.8,138.8],"nice":false,"zero":false},"axis":{"orient":"top","labels":false,"title":null,"values":[-30,-20,-10,0,10,20,30,40,50,60,70,80,90,100,110,120,130],"tickSize":{"condition":{"test":"datum.value % 50 === 0","value":-7},"value":-3.5}}},
    "y":{"field":"v","type":"quantitative","scale":{"domain":[2652,3112],"nice":false,"zero":false},"axis":{"orient":"right","labels":false,"title":null,"values":[2660,2680,2700,2720,2740,2760,2780,2800,2820,2840,2860,2880,2900,2920,2940,2960,2980,3000,3020,3040,3060,3080,3100],"tickSize":{"condition":{"test":"datum.value % 100 === 0","value":-7},"value":-3.5}}},
    "yError":{"field":"e"}}},
  {"mark":{"type":"line","interpolate":"step","color":"#ff00ff","strokeWidth":1,"clip":true},
   "encoding":{
    "x":{"field":"t","type":"quantitative","scale":{"domain":[-36.8,138.8],"nice":false,"zero":false},"axis":{"orient":"bottom","title":"Time [sec] 0 = 2008/03/20 11:51:45","titlePadding":0,"values":[-30,-20,-10,0,10,20,30,40,50,60,70,80,90,100,110,120,130],"labelExpr":"datum.value % 50 === 0 ? datum.label : ''","labelPadding":8,"labelFlush":false,"tickSize":{"condition":{"test":"datum.value % 50 === 0","value":-7},"value":-3.5}}},
    "y":{"field":"v","type":"quantitative","scale":{"domain":[2652,3112],"nice":false,"zero":false},"axis":{"orient":"left","title":null,"format":"d","values":[2660,2680,2700,2720,2740,2760,2780,2800,2820,2840,2860,2880,2900,2920,2940,2960,2980,3000,3020,3040,3060,3080,3100],"labelExpr":"datum.value % 100 === 0 ? datum.label : ''","labelPadding":18,"tickSize":{"condition":{"test":"datum.value % 100 === 0","value":-7},"value":-3.5}}}}},
  {"data":{"values":[{"label":"TH0123","x":138.8,"y":3038}]},
   "mark":{"type":"text","align":"right","baseline":"alphabetic","dx":-7,"fontSize":15,"font":"Liberation Sans","color":"#000"},
   "encoding":{"x":{"field":"x","type":"quantitative","axis":null},"y":{"field":"y","type":"quantitative","axis":null},"text":{"field":"label"}}}
 ],
 "resolve":{"axis":{"x":"independent","y":"independent"}}}
],
"config":{
 "view":{"stroke":"#000","strokeWidth":1},
 "font":"Liberation Sans",
 "axis":{"domain":false,"grid":false,"labelFont":"Liberation Sans","labelFontSize":15,"labelColor":"#000","labelOverlap":false,"labelFlush":false,"tickColor":"#000","tickWidth":1,"titleFont":"Liberation Sans","titleFontSize":15,"titleFontWeight":"normal","titleColor":"#000"}
}
}
